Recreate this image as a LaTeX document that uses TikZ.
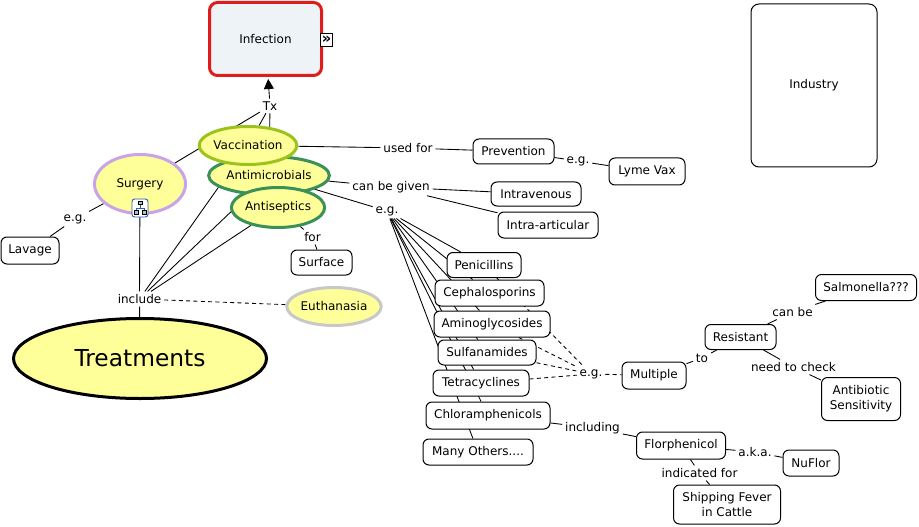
\documentclass[tikz,border=0pt]{standalone}
\usepackage{fontspec}
\setmainfont{DejaVu Sans}
\usetikzlibrary{shapes.geometric,arrows.meta,backgrounds}
\definecolor{cmapyellow}{HTML}{FFFF99}
\definecolor{infectfill}{HTML}{EDF3F6}
\definecolor{infectred}{HTML}{E01B1B}
\definecolor{vaccgreen}{HTML}{9CC31C}
\definecolor{microgreen}{HTML}{3A9058}
\definecolor{surglilac}{HTML}{C9A2E8}
\definecolor{euthgray}{HTML}{C8C8C8}
\definecolor{iconblue}{HTML}{2F5FA8}
\tikzset{
	px/.style 2 args={minimum width=#1*0.75pt, minimum height=#2*0.75pt},
	concept/.style={draw, fill=white, rounded corners=4.5pt, line width=0.75pt, inner sep=0pt, align=center, font=\fontsize{9}{11}\selectfont},
	bubble/.style={ellipse, draw, fill=cmapyellow, line width=2.25pt, inner sep=0pt, font=\fontsize{9}{11}\selectfont},
	linklabel/.style={inner sep=2pt, font=\fontsize{9}{11}\selectfont},
	link/.style={line width=0.65pt},
	dashlink/.style={line width=0.65pt, dash pattern=on 3pt off 2.5pt},
}

\begin{document}
\begin{tikzpicture}[x=0.75pt, y=-0.75pt]
			%%%%% START %%%%%
			\useasboundingbox (0,0) rectangle (919,527);
			
			\node[concept, px={112}{73}, draw=infectred, fill=infectfill, line width=2.25pt, rounded corners=6pt] (infection) at (265.5,39) {Infection};
			\node[draw, fill=white, line width=0.6pt, inner sep=0pt, minimum size=9.5pt, font=\fontsize{11}{11}\selectfont\bfseries] (infmore) at (326.5,40) {»};
			\node[concept, px={126}{163}, rounded corners=6pt] (industry) at (814,85.5) {Industry};
			
			\node[bubble, draw=microgreen, px={103}{38}] (antimicrobials) at (269,175.5) {Antimicrobials};
			\node[bubble, draw=vaccgreen, px={87}{38}] (vaccination) at (248,145.5) {Vaccination};
			\node[bubble, draw=microgreen, px={87}{40}] (antiseptics) at (278,207.5) {Antiseptics};
			\node[bubble, draw=surglilac, px={91}{59}] (surgery) at (140,184) {Surgery};
			\node[bubble, draw=black, px={253}{80}, font=\fontsize{17.5}{20}\selectfont] (treatments) at (140,358.5) {Treatments};
			\node[bubble, draw=euthgray, px={85}{38}] (euthanasia) at (334,306.5) {Euthanasia};
			
			\node[draw=iconblue, fill=white, rounded corners=2pt, line width=0.7pt, minimum width=12pt, minimum height=13.5pt, inner sep=0pt] (surgicon) at (140,208) {};
			\begin{scope}[shift={(surgicon.center)}, line width=0.4pt]
				\draw[iconblue] (0,-3) -- (0,0) (-4,0) -- (4,0) (-4,0) -- (-4,2) (4,0) -- (4,2);
				\draw[fill=iconblue!40] (-1.8,-7) rectangle (1.8,-3.3);
				\draw[fill=iconblue!40] (-6,2) rectangle (-2.2,5.8);
				\draw[fill=iconblue!40] (2.2,2) rectangle (6,5.8);
			\end{scope}
			
			\node[concept, px={58}{27}] (lavage) at (30,250.5) {Lavage};
			\node[concept, px={61}{25}] (surface) at (321.5,262.5) {Surface};
			\node[concept, px={81}{25}] (prevention) at (513.5,151.5) {Prevention};
			\node[concept, px={76}{27}] (lymevax) at (647,171.5) {Lyme Vax};
			\node[concept, px={90}{24}] (intravenous) at (536,194) {Intravenous};
			\node[concept, px={100}{26}] (intraarticular) at (548,225) {Intra-articular};
			
			\node[concept, px={74}{25}] (penicillins) at (484,265) {Penicillins};
			\node[concept, px={109}{26}] (cephalosporins) at (489.5,293) {Cephalosporins};
			\node[concept, px={116}{26}] (aminoglycosides) at (492,324) {Aminoglycosides};
			\node[concept, px={98}{25}] (sulfanamides) at (487,352.5) {Sulfanamides};
			\node[concept, px={96}{26}] (tetracyclines) at (481,383) {Tetracyclines};
			\node[concept, px={124}{27}] (chloramphenicols) at (488,415.5) {Chloramphenicols};
			\node[concept, px={110}{26}] (manyothers) at (478,452) {Many Others....};
			
			\node[concept, px={64}{27}] (multiple) at (654,375.5) {Multiple};
			\node[concept, px={71}{25}] (resistant) at (740.5,337) {Resistant};
			\node[concept, px={101}{26}] (salmonella) at (866,287.5) {Salmonella???};
			\node[concept, px={79}{43}] (sensitivity) at (861,399) {Antibiotic\\Sensitivity};
			\node[concept, px={89}{27}] (florphenicol) at (681,445.5) {Florphenicol};
			\node[concept, px={56}{26}] (nuflor) at (811,463) {NuFlor};
			\node[concept, px={107}{39}] (shipping) at (727,504.5) {Shipping Fever\\in Cattle};
			
			\node[linklabel] (tx) at (270,106) {Tx};
			\node[linklabel] (egsurg) at (75,219) {e.g.};
			\node[linklabel] (include) at (139.5,299) {include};
			\node[linklabel] (for) at (312.5,237) {for};
			\node[linklabel] (usedfor) at (408,148) {used for};
			\node[linklabel] (egvax) at (578,161) {e.g.};
			\node[linklabel] (cangiven) at (391,187) {can be given};
			\node[linklabel] (egdrug) at (387,211) {e.g.};
			\node[linklabel] (egmult) at (591,374) {e.g.};
			\node[linklabel] (to) at (702,358) {to};
			\node[linklabel] (canbe) at (792.5,312) {can be};
			\node[linklabel] (needcheck) at (793.5,367) {need to check};
			\node[linklabel] (including) at (592.5,428) {including};
			\node[linklabel] (aka) at (755,452) {a.k.a.};
			\node[linklabel] (indicated) at (699.5,473) {indicated for};
			
			\begin{pgfonlayer}{background}
				\draw[link, -{Triangle[width=7.5pt,length=7.5pt]}, shorten >=1.5pt] (tx) -- (infection);
				\draw[link] (tx) -- (surgery);
				\draw[link] (tx) -- (vaccination);
				\draw[link] (tx) -- (antimicrobials);
				
				\draw[link] (surgery) -- (egsurg) -- (lavage);
				\draw[link] (include) -- (surgery);
				\draw[link] (include) -- (vaccination);
				\draw[link] (include) -- (antimicrobials);
				\draw[link] (include) -- (antiseptics);
				\draw[link] (include) -- (treatments);
				\draw[dashlink] (include) -- (euthanasia);
				\draw[link] (antiseptics) -- (for) -- (surface);
				
				\draw[link] (vaccination) -- (usedfor) -- (prevention);
				\draw[link] (prevention) -- (egvax) -- (lymevax);
				\draw[link] (antimicrobials) -- (cangiven) -- (intravenous);
				\draw[link] (cangiven) -- (intraarticular);
				\draw[link] (antimicrobials) -- (egdrug);
				\foreach \d in {penicillins,cephalosporins,aminoglycosides,sulfanamides,tetracyclines,chloramphenicols,manyothers}
					\draw[link] (egdrug) -- (\d);
				
				\foreach \d in {penicillins,aminoglycosides,sulfanamides,tetracyclines}
					\draw[dashlink] (\d) -- (egmult);
				\draw[dashlink] (egmult) -- (multiple);
				\draw[link] (multiple) -- (to) -- (resistant);
				\draw[link] (resistant) -- (canbe) -- (salmonella);
				\draw[link] (resistant) -- (needcheck) -- (sensitivity);
				\draw[link] (chloramphenicols) -- (including) -- (florphenicol);
				\draw[link] (florphenicol) -- (aka) -- (nuflor);
				\draw[link] (florphenicol) -- (indicated) -- (shipping);
			\end{pgfonlayer}
			
			%%%%% END %%%%%
\end{tikzpicture}
\end{document}
